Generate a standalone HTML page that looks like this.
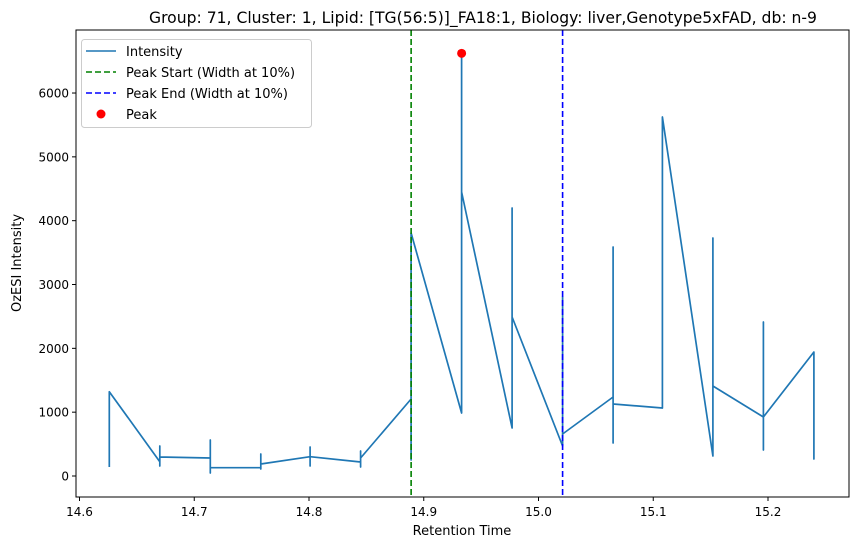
<!DOCTYPE html>
<html><head><meta charset="utf-8"><style>
body{margin:0;background:#fff}
svg{display:block;font-family:"DejaVu Sans","Liberation Sans",sans-serif}
</style></head><body>
<svg id="chart" width="859" height="547">
<text x="483" y="23" text-anchor="middle" font-size="15.6" fill="#000">Group: 71, Cluster: 1, Lipid: [TG(56:5)]_FA18:1, Biology: liver,Genotype5xFAD, db: n-9</text>
<text x="462" y="535" text-anchor="middle" font-size="13">Retention Time</text>
<text transform="translate(21,263) rotate(-90)" text-anchor="middle" font-size="13">OzESI Intensity</text>
<g id="xticks"></g><g id="yticks"></g>
<g id="plot"></g>
<rect x="76" y="30" width="773" height="467" fill="none" stroke="#000" stroke-width="1"/>
<g>
<rect x="81.5" y="39.5" width="230" height="88" rx="3" fill="#fff" fill-opacity="0.8" stroke="#ccc"/>
<line x1="86" y1="51" x2="116" y2="51" stroke="#1f77b4" stroke-width="1.6"/>
<text x="126" y="56" font-size="13">Intensity</text>
<line x1="86" y1="72" x2="116" y2="72" stroke="green" stroke-width="1.6" stroke-dasharray="6,3"/>
<text x="126" y="77" font-size="13">Peak Start (Width at 10%)</text>
<line x1="86" y1="93" x2="116" y2="93" stroke="blue" stroke-width="1.6" stroke-dasharray="6,3"/>
<text x="126" y="98" font-size="13">Peak End (Width at 10%)</text>
<circle cx="101" cy="114" r="4.5" fill="red"/>
<text x="126" y="119" font-size="13">Peak</text>
</g>
</svg>
<script>
const times=[14.626,14.626,14.626,14.670,14.670,14.670,14.670,14.714,14.714,14.714,14.714,14.758,14.758,14.758,14.758,14.801,14.801,14.801,14.801,14.845,14.845,14.845,14.845,14.889,14.889,14.889,14.933,14.933,14.933,14.977,14.977,14.977,15.021,15.021,15.021,15.065,15.065,15.065,15.065,15.108,15.108,15.152,15.152,15.152,15.196,15.196,15.196,15.196,15.240,15.240,15.240];
const intensities=[141,700,1321,224,157,470,298,282,47,564,130,130,110,345,188,303,157,454,303,219,141,392,282,1207,250,3807,987,6622,4449,752,4199,2491,470,2804,658,1238,517,3588,1128,1065,5624,313,3729,1410,924,407,2413,924,1943,266,750];
const peakTime=[14.933];const peakValue=[6622];
const peakStart=[14.889];const peakEnd=[15.021];
const xTickLabels=["14.6","14.7","14.8","14.9","15.0","15.1","15.2"];
const yTickLabels=["0","1000","2000","3000","4000","5000","6000"];
const NS="http://www.w3.org/2000/svg";
function X(t){return 79.5+(t-14.6)*1147.5;}
function Y(v){return 476-v*0.06383;}
function mk(tag,attrs,parent){const e=document.createElementNS(NS,tag);for(const k in attrs)e.setAttribute(k,attrs[k]);parent.appendChild(e);return e;}
const xt=document.getElementById('xticks'),yt=document.getElementById('yticks'),plot=document.getElementById('plot');
xTickLabels.forEach(l=>{const x=X(parseFloat(l));
const t=mk('line',{x1:x,x2:x,y1:497,y2:501,stroke:'#000'},xt);


const tx=mk('text',{x:x,y:516,'text-anchor':'middle','font-size':12},xt);tx.textContent=l;

});
yTickLabels.forEach(l=>{const y=Y(parseFloat(l));
const t=mk('line',{x1:72,x2:76,y1:y,y2:y,stroke:'#000'},yt);


const tx=mk('text',{x:69,y:y+4.5,'text-anchor':'end','font-size':12},yt);tx.textContent=l;

});
const pts=times.map((t,i)=>X(t).toFixed(1)+','+Y(intensities[i]).toFixed(1)).join(' ');
const pl=mk('polyline',{points:pts,fill:'none',stroke:'#1f77b4','stroke-width':1.7,'stroke-linejoin':'round'},plot);


const g=mk('line',{x1:X(peakStart[0]),x2:X(peakStart[0]),y1:30,y2:497,stroke:'green','stroke-width':1.6,'stroke-dasharray':'6,3'},plot);


const b=mk('line',{x1:X(peakEnd[0]),x2:X(peakEnd[0]),y1:30,y2:497,stroke:'blue','stroke-width':1.6,'stroke-dasharray':'6,3'},plot);


const c=mk('circle',{cx:X(peakTime[0]),cy:Y(peakValue[0]),r:4.5,fill:'red'},plot);


</script>
</body></html>
